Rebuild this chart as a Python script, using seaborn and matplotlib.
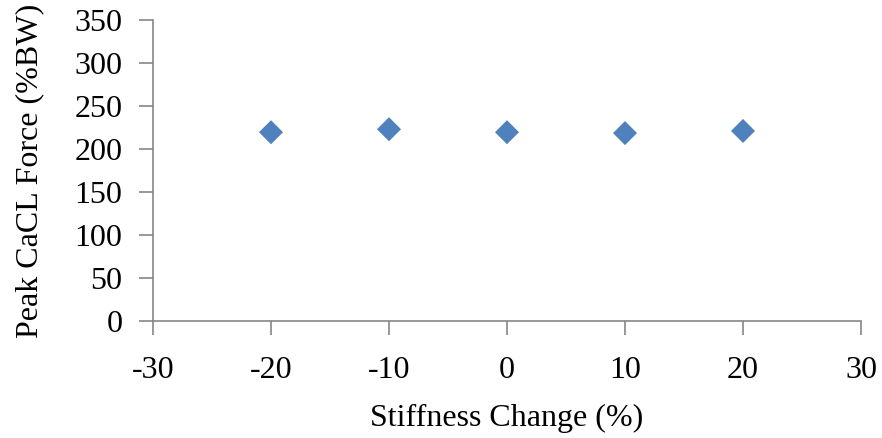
import matplotlib
matplotlib.use("Agg")
import matplotlib.pyplot as plt
import seaborn as sns
import pandas as pd

stiffness_change = [-20, -10, 0, 10, 20]
peak_force = [219.5, 223, 219.5, 218.5, 221]
x_ticks = [-30, -20, -10, 0, 10, 20, 30]
y_ticks = [0, 50, 100, 150, 200, 250, 300, 350]

sns.set_theme(style="white")
plt.rcParams['font.family'] = ['Liberation Serif', 'DejaVu Serif']

df = pd.DataFrame({"x": stiffness_change, "y": peak_force})

fig = plt.figure(figsize=(8.82, 4.38), dpi=100)
ax = fig.add_axes([153/882, 1-321/438, (861-153)/882, (321-20)/438])

sns.scatterplot(data=df, x="x", y="y", ax=ax, marker="D", s=150,
                color="#4F81BD", edgecolor="none", zorder=3, clip_on=False)

ax.set_xlim(-30, 30)
ax.set_ylim(0, 350)
ax.set_xticks(x_ticks)
ax.set_yticks(y_ticks)
ax.set_xticklabels([str(v) for v in x_ticks])
ax.set_yticklabels([str(v) for v in y_ticks])

grey = "#868686"
for s in ["top", "right"]:
    ax.spines[s].set_visible(False)
for s in ["left", "bottom"]:
    ax.spines[s].set_color(grey)
    ax.spines[s].set_linewidth(1.2)

fs = 23
ax.tick_params(axis="both", direction="out", length=10, width=1.2, color=grey,
               labelsize=fs, labelcolor="black")
ax.tick_params(axis="x", pad=15, bottom=True)
ax.tick_params(axis="y", pad=12, left=True)

ax.set_xlabel("Stiffness Change (%)", fontsize=fs, labelpad=14, color="black")
ax.set_ylabel("Peak CaCL Force (%BW)", fontsize=fs, labelpad=22, color="black")
ax.grid(False)

fig.savefig("out.png", dpi=100)
